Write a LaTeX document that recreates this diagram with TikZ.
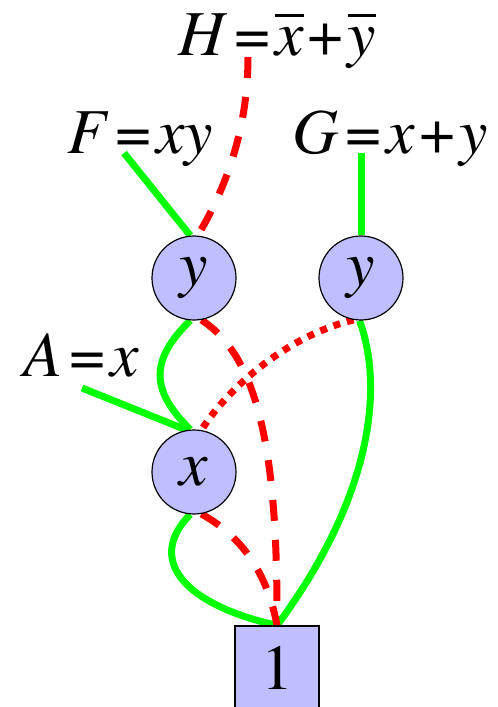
\documentclass[tikz,border=0pt]{standalone}
\usepackage{fontspec}
\setmainfont{texgyretermes}[Extension=.otf, UprightFont=*-regular, ItalicFont=*-italic]
\usetikzlibrary{backgrounds}
\newcommand\ovl[1]{\vbox{\hrule height 2.5pt\kern 10pt\hbox{\itshape #1}}}
\newcommand\eqs{\kern7pt=\kern5pt}
\newcommand\pls{\kern4pt+\kern4pt}
\definecolor{nodefill}{RGB}{191,191,255}
\definecolor{grn}{RGB}{0,255,0}
\definecolor{rd}{RGB}{255,0,0}
\begin{document}
\begin{tikzpicture}[x=1pt,y=-1pt,
  lbl/.style={font=\fontsize{64}{70}\selectfont, inner sep=0pt, anchor=base west},
  vnode/.style={circle, draw=black, line width=1.2pt, fill=nodefill, minimum size=84pt, inner sep=0pt, font=\fontsize{64}{70}\selectfont\itshape},
  termnode/.style={rectangle, draw=black, line width=1.2pt, fill=nodefill, minimum width=84pt, minimum height=84pt, inner sep=0pt, font=\fontsize{64}{70}\selectfont},
  hi/.style={draw=grn, line width=7pt},
  lo/.style={draw=rd, line width=7pt, dash pattern=on 21pt off 19pt},
  neg/.style={draw=rd, line width=7pt, dash pattern=on 7pt off 7pt}]
\useasboundingbox (0,0) rectangle (498,707);
\node[lbl] (H) at (178,55) {\textit{H}\eqs\ovl{x}\pls\ovl{y}};
\node[lbl] (F) at (67,153) {\textit{F}\eqs\textit{xy}};
\node[lbl] (G) at (292,153) {\textit{G}\eqs\textit{x}\pls\textit{y}};
\node[lbl] (A) at (23,376) {\textit{A}\eqs\textit{x}};
\coordinate (Hp) at (248,57);
\coordinate (Fp) at (124,153);
\coordinate (Gp) at (361,153);
\coordinate (Ap) at (82,388);
\node[vnode] (y1) at (194,278) {y};
\node[vnode] (y2) at (361,278) {y};
\node[vnode] (x) at (194,472) {x};
\node[termnode] (one) at (277,668) {\raisebox{-6pt}{1}};
\begin{scope}[on background layer]
\draw[lo] (Hp) .. controls (248,130) and (225,190) .. (y1.85);
\draw[hi] (Fp) -- (y1.95);
\draw[hi] (Gp) -- (y2.north);
\draw[hi] (y1.265) .. controls (150,360) and (150,390) .. (x.95);
\draw[lo] (y1.-80) .. controls (255,355) and (278,440) .. (one.north);
\draw[neg] (y2.-100) .. controls (290,335) and (230,385) .. (x.80);
\draw[hi] (y2.-92) .. controls (385,390) and (370,500) .. (one.north);
\draw[hi] (Ap) -- (x.100);
\draw[hi] (x.265) .. controls (145,560) and (185,605) .. (one.north);
\draw[lo] (x.-80) .. controls (230,530) and (265,560) .. (one.north);
\end{scope}
\end{tikzpicture}
\end{document}
